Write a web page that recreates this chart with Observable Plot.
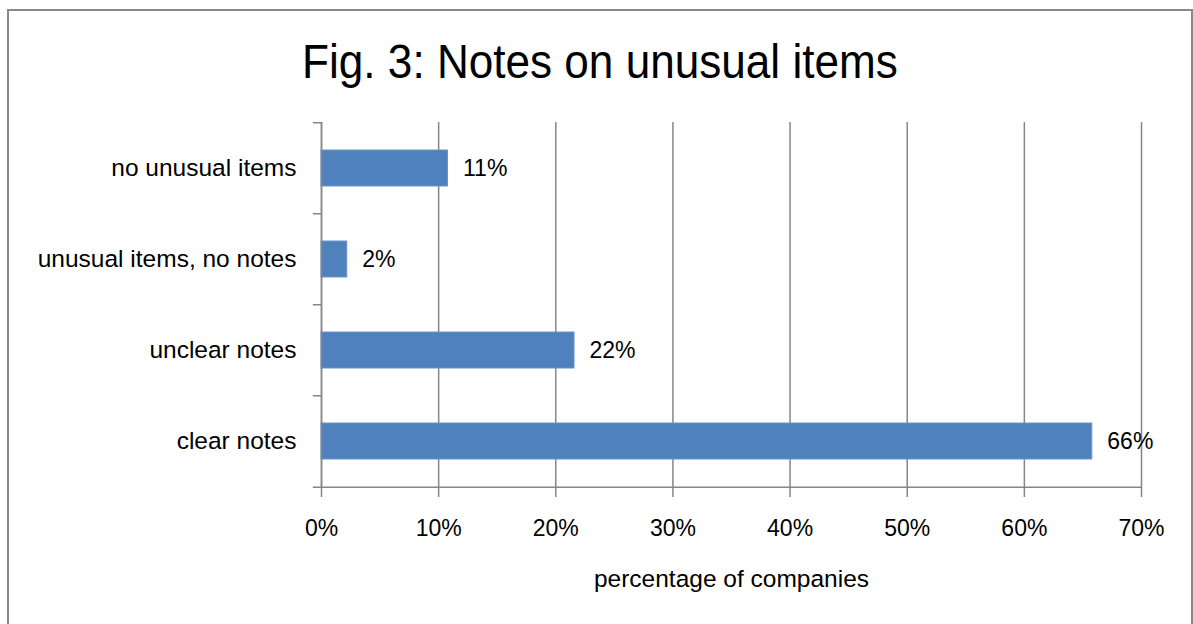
<!DOCTYPE html>
<html>
<head>
<meta charset="utf-8">
<script src="https://cdn.jsdelivr.net/npm/d3@7"></script>
<script src="https://cdn.jsdelivr.net/npm/@observablehq/plot@0.6"></script>
<style>
  html, body { margin: 0; padding: 0; background: #fff; overflow: hidden; width: 1193px; height: 624px; }
  #frame { position: absolute; left: 7px; top: 9px; width: 1182px; height: 700px; border: 2px solid #898989; }
  #title { position: absolute; left: 0; top: 37px; width: 1200px; text-align: center; font-family: "Liberation Sans", Arial, sans-serif; font-size: 49px; line-height: 49px; color: #000; }
  #title span { display: inline-block; transform: scaleX(0.9); transform-origin: center; white-space: nowrap; }
  #chart { position: absolute; left: 0; top: 0; }
</style>
</head>
<body>
<div id="frame"></div>
<div id="title"><span>Fig. 3: Notes on unusual items</span></div>
<div id="chart"></div>
<script>
const categories = ["no unusual items", "unusual items, no notes", "unclear notes", "clear notes"];
const values = [10.8, 2.2, 21.6, 65.8];
const xTicks = [0, 10, 20, 30, 40, 50, 60, 70];
const xLabel = "percentage of companies";

const data = categories.map((c, i) => ({category: c, value: values[i]}));

const W = 1193, H = 624;
const mLeft = 321, mRight = 52, mTop = 122, mBottom = 136;
const step = (H - mTop - mBottom) / categories.length;
const gray = "#868686";
const font = "'Liberation Sans', Arial, sans-serif";

const chart = Plot.plot({
  width: W,
  height: H,
  marginLeft: mLeft,
  marginRight: mRight,
  marginTop: mTop,
  marginBottom: mBottom,
  style: {fontFamily: font, fontSize: "23px", color: "#000", background: "transparent", overflow: "visible"},
  x: {domain: [0, 70], ticks: xTicks},
  y: {domain: categories, paddingInner: 0.6, paddingOuter: 0.3},
  marks: [
    Plot.gridX(xTicks, {stroke: gray, strokeOpacity: 1, strokeWidth: 1.5}),
    Plot.barX(data, {x: "value", y: "category", fill: "#4F81BD", stroke: "#6A95C9", strokeWidth: 1}),
    Plot.ruleX([0], {stroke: gray, strokeWidth: 1.5}),
    Plot.ruleY(categories, {y: d => d, x1: -0.7, x2: 0, dy: -step / 2, stroke: gray, strokeWidth: 1.5}),
    Plot.ruleY([categories[categories.length - 1]], {y: d => d, x1: -0.7, x2: 70, dy: step / 2, stroke: gray, strokeWidth: 1.5}),
    Plot.axisX({ticks: xTicks, tickFormat: d => d + "%", tickSize: 9, tickPadding: 22, stroke: gray, strokeWidth: 1.5, label: null, fontSize: 23}),
    Plot.axisY({tickSize: 0, tickPadding: 25, label: null, fontSize: 24.5}),
    Plot.text([xLabel], {frameAnchor: "bottom", dy: 98, text: d => d, fontSize: 24.5}),
    Plot.text(data, {x: "value", y: "category", text: d => Math.round(d.value) + "%", textAnchor: "start", dx: 15, fontSize: 23})
  ]
});
document.getElementById("chart").appendChild(chart);
</script>
</body>
</html>
